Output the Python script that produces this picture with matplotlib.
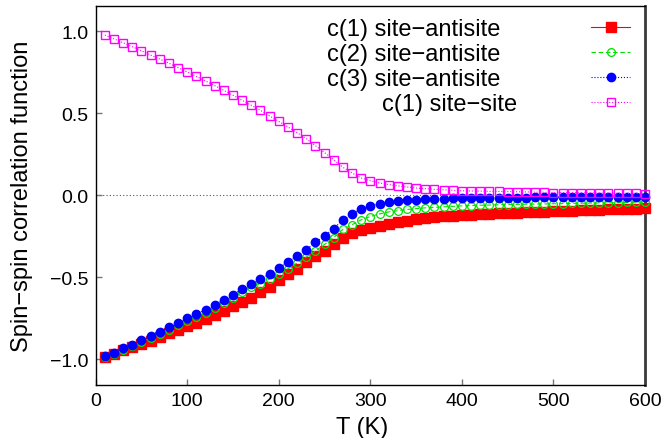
import matplotlib
matplotlib.use("Agg")
import matplotlib.pyplot as plt

plt.rcParams['font.family'] = ['Liberation Sans', 'DejaVu Sans']

T = list(range(10, 610, 10))

c1_anti = [-0.984, -0.966, -0.946, -0.928, -0.909, -0.887, -0.867, -0.842, -0.820, -0.800,
           -0.776, -0.755, -0.731, -0.705, -0.678, -0.652, -0.624, -0.588, -0.558, -0.515,
           -0.482, -0.447, -0.410, -0.372, -0.337, -0.298, -0.260, -0.228, -0.213, -0.198,
           -0.186, -0.174, -0.164, -0.156, -0.148, -0.141, -0.135, -0.129, -0.124, -0.121,
           -0.119, -0.116, -0.113, -0.111, -0.109, -0.107, -0.105, -0.103, -0.101, -0.099,
           -0.097, -0.095, -0.093, -0.091, -0.089, -0.087, -0.085, -0.083, -0.082, -0.080]

c2_anti = [-0.985, -0.965, -0.941, -0.917, -0.893, -0.870, -0.846, -0.819, -0.794, -0.767,
           -0.741, -0.716, -0.690, -0.657, -0.625, -0.592, -0.560, -0.540, -0.510, -0.480,
           -0.448, -0.414, -0.377, -0.340, -0.300, -0.258, -0.208, -0.180, -0.150, -0.130,
           -0.114, -0.102, -0.094, -0.087, -0.082, -0.077, -0.074, -0.071, -0.068, -0.065,
           -0.063, -0.061, -0.060, -0.058, -0.057, -0.056, -0.055, -0.054, -0.053, -0.052,
           -0.051, -0.050, -0.049, -0.048, -0.047, -0.046, -0.045, -0.044, -0.043, -0.042]

c3_anti = [-0.981, -0.960, -0.934, -0.911, -0.885, -0.861, -0.834, -0.806, -0.780, -0.751,
           -0.725, -0.698, -0.670, -0.637, -0.609, -0.570, -0.544, -0.512, -0.479, -0.443,
           -0.408, -0.371, -0.331, -0.288, -0.247, -0.203, -0.150, -0.115, -0.083, -0.065,
           -0.052, -0.043, -0.037, -0.032, -0.029, -0.026, -0.024, -0.022, -0.020, -0.019,
           -0.018, -0.017, -0.016, -0.016, -0.015, -0.014, -0.014, -0.013, -0.013, -0.012,
           -0.012, -0.011, -0.011, -0.010, -0.010, -0.010, -0.009, -0.009, -0.009, -0.008]

c1_site = [0.976, 0.953, 0.929, 0.905, 0.880, 0.854, 0.830, 0.805, 0.777, 0.751,
           0.724, 0.696, 0.668, 0.639, 0.609, 0.578, 0.548, 0.517, 0.483, 0.450,
           0.416, 0.381, 0.345, 0.302, 0.260, 0.216, 0.170, 0.136, 0.105, 0.088,
           0.075, 0.065, 0.057, 0.050, 0.044, 0.040, 0.036, 0.033, 0.030, 0.027,
           0.026, 0.025, 0.024, 0.023, 0.022, 0.021, 0.020, 0.019, 0.018, 0.016,
           0.016, 0.015, 0.015, 0.014, 0.013, 0.013, 0.012, 0.011, 0.011, 0.010]

labels = ["c(1) site\u2212antisite", "c(2) site\u2212antisite",
          "c(3) site\u2212antisite", "c(1) site\u2212site"]

fig = plt.figure(figsize=(6.63, 4.39), dpi=100)
ax = fig.add_axes([0.1443, 0.1214, 0.8286, 0.8633])

ax.axhline(0, color='#555555', lw=0.8, ls=(0, (1, 2)), zorder=1)

ax.plot(T, c1_anti, '-', color='#ff0000', lw=0.8, marker='s', ms=6.8,
        mec='#ff0000', mfc='#ff0000', label=labels[0], clip_on=False, zorder=3)
ax.plot(T, c2_anti, color='#00e000', lw=0.8, ls=(0, (4, 2.5)), marker='o', ms=5.6,
        mec='#00e000', mfc='none', mew=0.9, label=labels[1], clip_on=False, zorder=4)
ax.plot(T, c3_anti, ':', color='#0000ff', lw=0.8, marker='o', ms=6.0,
        mec='#0000ff', mfc='#0000ff', label=labels[2], clip_on=False, zorder=5)
ax.plot(T, c1_site, ':', color='#ff00ff', lw=0.8, marker='s', ms=6.4,
        mec='#ff00ff', mfc='none', mew=1.0, label=labels[3], clip_on=False, zorder=6)

ax.set_xlim(0, 600)
ax.set_ylim(-1.155, 1.155)
ax.set_xticks([0, 100, 200, 300, 400, 500, 600])
ax.set_yticks([-1.0, -0.5, 0.0, 0.5, 1.0])
ax.set_yticklabels(["\u22121.0", "\u22120.5", "0.0", "0.5", "1.0"])
ax.tick_params(direction='in', length=4.5, width=1, color='#777777',
               labelsize=14, pad=5)

for s in ['left', 'bottom', 'top']:
    ax.spines[s].set_color('black')
    ax.spines[s].set_linewidth(1.0)
ax.spines['right'].set_color('#3a3a3a')
ax.spines['right'].set_linewidth(2.0)

ax.set_xlabel("T (K)", fontsize=17)
ax.set_ylabel("Spin\u2212spin correlation function", fontsize=17)
ax.xaxis.set_label_coords(0.485, -0.082)
ax.yaxis.set_label_coords(-0.114, 0.5)

leg = ax.legend(loc='upper right', bbox_to_anchor=(630 / 663, 1 - 19 / 439),
                bbox_transform=fig.transFigure, frameon=False, fontsize=17,
                markerfirst=False, numpoints=1, handlelength=1.65,
                handletextpad=3.86, borderpad=0, borderaxespad=0,
                labelspacing=0.13)
leg.get_texts()[3].set_x(17)

fig.savefig("out.png", dpi=100)
